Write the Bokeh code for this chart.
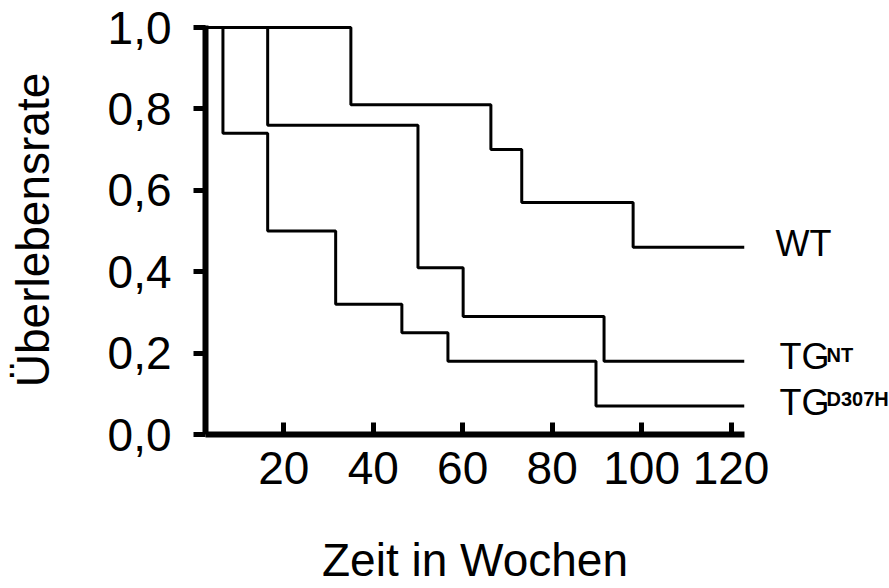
from bokeh.plotting import figure
from bokeh.models import Range1d, FixedTicker, Label
from bokeh.layouts import row
from bokeh.embed import file_html
from bokeh.resources import INLINE

# --- data (Kaplan-Meier style step curves) ---
wt_time = [0, 35.0, 66.3, 73.2, 98.1, 123]
wt_surv = [1.0, 0.81, 0.70, 0.57, 0.46, 0.46]

nt_time = [0, 16.4, 50.0, 60.1, 91.6, 123]
nt_surv = [1.0, 0.76, 0.41, 0.29, 0.18, 0.18]

d307h_time = [0, 6.4, 16.4, 31.6, 46.4, 56.7, 89.8, 123]
d307h_surv = [1.0, 0.74, 0.50, 0.32, 0.25, 0.18, 0.07, 0.07]

x_ticks = [20, 40, 60, 80, 100, 120]
y_ticks = [0.0, 0.2, 0.4, 0.6, 0.8, 1.0]
y_tick_labels = ["0,0", "0,2", "0,4", "0,6", "0,8", "1,0"]

series_main = ["WT", "TG", "TG"]
series_sup = ["", "NT", "D307H"]

x_title = "Zeit in Wochen"
y_title = "Überlebensrate"

FONT = "Liberation Sans"
TOP, BOTTOM = 25, 150

y_range = Range1d(0, 1.005)

p = figure(width=774, height=588, output_backend="svg", toolbar_location=None,
           x_range=Range1d(2.5, 123), y_range=y_range,
           min_border_left=205, min_border_right=30,
           min_border_top=TOP, min_border_bottom=BOTTOM)

p.outline_line_color = None
p.xgrid.visible = False
p.ygrid.visible = False
p.background_fill_color = "white"
p.border_fill_color = "white"

for t, s in [(wt_time, wt_surv), (nt_time, nt_surv), (d307h_time, d307h_surv)]:
    p.step(t, s, mode="after", line_color="black", line_width=3)

# x axis
xa = p.xaxis[0]
xa.ticker = FixedTicker(ticks=x_ticks)
xa.axis_line_width = 6
xa.axis_line_color = "black"
xa.major_tick_in = 12
xa.major_tick_out = 0
xa.major_tick_line_width = 5
xa.minor_tick_line_color = None
xa.major_label_text_font = FONT
xa.major_label_text_font_size = "46px"
xa.major_label_text_color = "black"
xa.major_label_standoff = 17
xa.axis_label = x_title
xa.axis_label_text_font = FONT
xa.axis_label_text_font_size = "46px"
xa.axis_label_text_font_style = "normal"
xa.axis_label_text_color = "black"
xa.axis_label_standoff = 47

# y axis
ya = p.yaxis[0]
ya.ticker = FixedTicker(ticks=y_ticks)
ya.major_label_overrides = {v: l for v, l in zip(y_ticks, y_tick_labels)}
ya.axis_line_width = 6
ya.axis_line_color = "black"
ya.major_tick_in = 0
ya.major_tick_out = 12
ya.major_tick_line_width = 5
ya.minor_tick_line_color = None
ya.major_label_text_font = FONT
ya.major_label_text_font_size = "46px"
ya.major_label_text_color = "black"
ya.major_label_standoff = 22
ya.axis_label = y_title
ya.axis_label_text_font = FONT
ya.axis_label_text_font_size = "46px"
ya.axis_label_text_font_style = "normal"
ya.axis_label_text_color = "black"
ya.axis_label_standoff = 46

# --- side panel for the curve labels, sharing the y scale ---
q = figure(width=115, height=588, output_backend="svg", toolbar_location=None,
           x_range=Range1d(0, 1), y_range=y_range,
           x_axis_type=None, y_axis_type=None,
           min_border_left=0, min_border_right=0,
           min_border_top=TOP, min_border_bottom=BOTTOM)
q.outline_line_color = None
q.xgrid.visible = False
q.ygrid.visible = False
q.border_fill_color = "white"
q.background_fill_color = "white"

ends = [wt_surv[-1], nt_surv[-1], d307h_surv[-1]]
main_dx = [1, 5, 5]
main_dy = [4, 5, 4]
sup_dy = [0, 6, 7]
for name, sup, yv, dx, mo, so in zip(series_main, series_sup, ends, main_dx, main_dy, sup_dy):
    q.add_layout(Label(x=0, y=yv, x_offset=dx, y_offset=mo, text=name,
                       text_font=FONT, text_font_size="36px", text_color="black",
                       text_baseline="middle", text_align="left"))
    if sup:
        q.add_layout(Label(x=0, y=yv, x_offset=dx + 47, y_offset=so, text=sup,
                           text_font=FONT, text_font_size="20px", text_font_style="bold",
                           text_color="black", text_baseline="middle", text_align="left"))

layout = row(p, q, spacing=0)
open("out.html", "w").write(file_html(layout, INLINE))
